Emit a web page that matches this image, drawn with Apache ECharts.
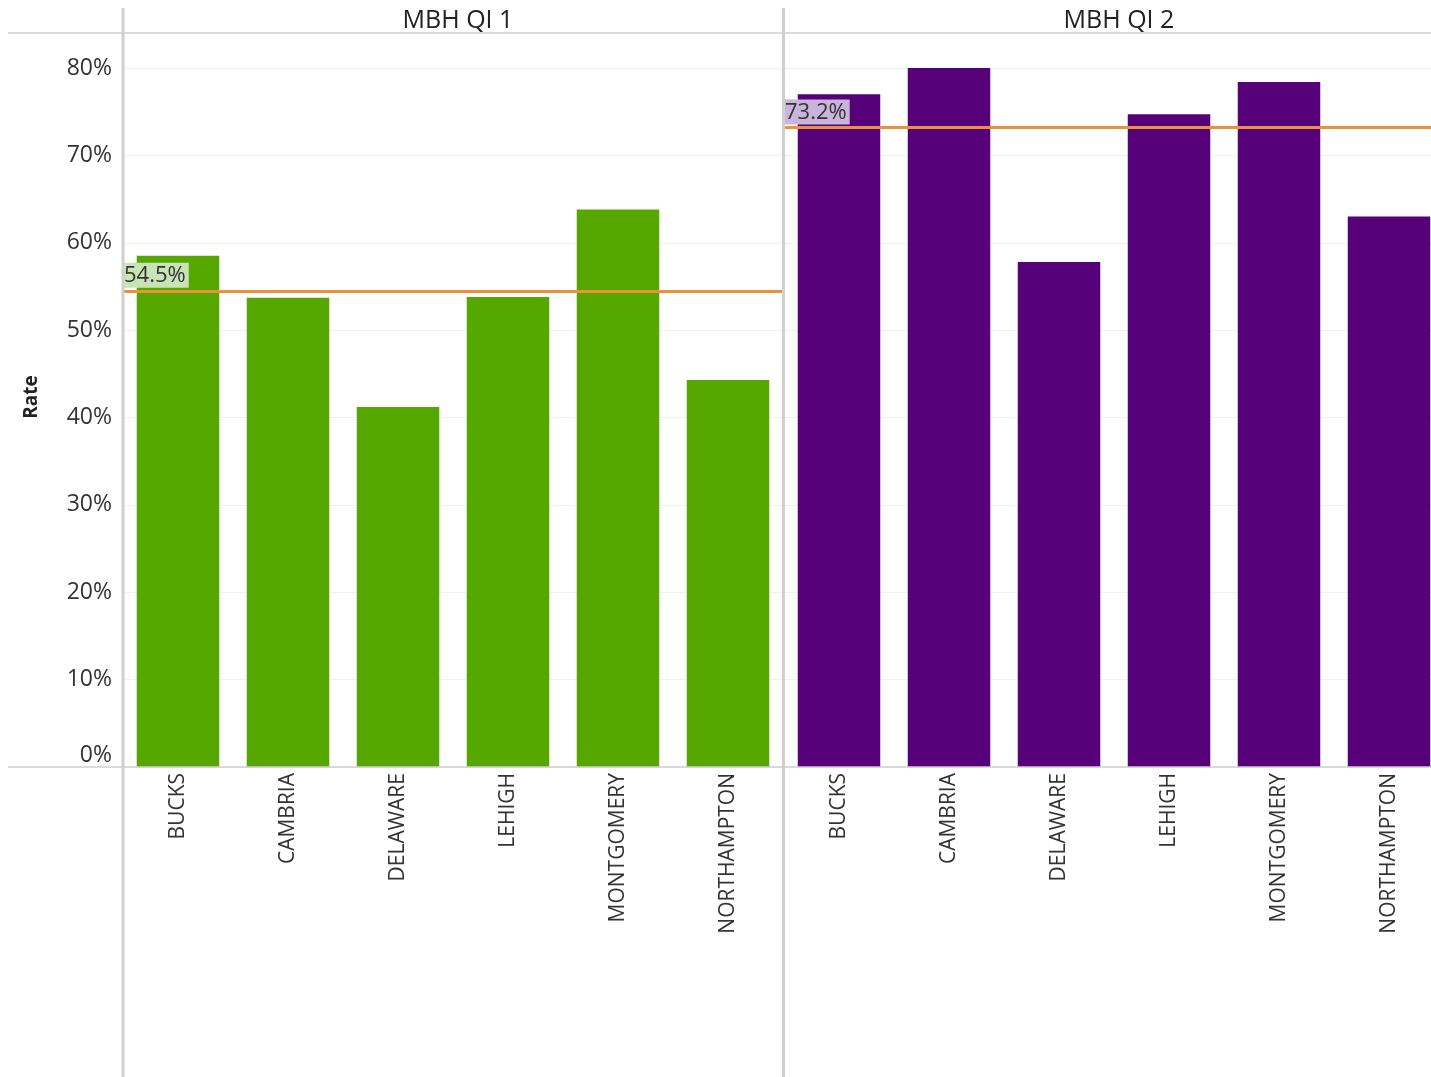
<!DOCTYPE html>
<html>
<head>
<meta charset="utf-8">
<script src="https://cdn.jsdelivr.net/npm/echarts@6/dist/echarts.min.js"></script>
<style>
  html, body { margin: 0; padding: 0; background: #fff; overflow: hidden; }
  /* a bit wider than the window: the last bar is cut off at the right edge, like the original */
  #main { width: 1444px; height: 1077px; }
</style>
</head>
<body>
<div id="main"></div>
<script>
// counties on each panel
const counties = ["BUCKS", "CAMBRIA", "DELAWARE", "LEHIGH", "MONTGOMERY", "NORTHAMPTON"];
// rates in percent
const qi1Rates = [58.5, 53.7, 41.2, 53.8, 63.8, 44.3];
const qi2Rates = [77.0, 80.0, 57.8, 74.7, 78.4, 63.0];
// reference lines (averages)
const qi1Avg = 54.5;
const qi2Avg = 73.2;
const panelTitles = ["MBH QI 1", "MBH QI 2"];
const yTicks = [0, 10, 20, 30, 40, 50, 60, 70, 80];

const font = "Open Sans";
const grey = "#cfcfcf";

let chart = echarts.init(document.getElementById("main"));

function yAxisFor(idx, showLabels) {
  return {
    type: "value",
    gridIndex: idx,
    min: yTicks[0],
    max: yTicks[yTicks.length - 1],
    interval: 10,
    axisLine: { show: false },
    axisTick: { show: false },
    splitLine: { show: true, lineStyle: { color: "#f0f0f0", width: 1 } },
    axisLabel: {
      show: showLabels,
      formatter: "{value}%",
      fontFamily: font,
      fontSize: 23,
      color: "#333",
      margin: 11,
      verticalAlignMinLabel: "bottom"
    }
  };
}

function xAxisFor(idx) {
  return {
    type: "category",
    gridIndex: idx,
    data: counties,
    axisLine: { show: false },
    axisTick: { show: false },
    axisLabel: {
      rotate: 90,
      interval: 0,
      margin: 6,
      fontFamily: font,
      fontSize: 21,
      color: "#333"
    }
  };
}

function refLine(value, bg) {
  return {
    silent: true,
    symbol: "none",
    lineStyle: { color: "#e8923a", width: 3, type: "solid" },
    label: {
      show: true,
      position: "insideStartTop",
      formatter: value.toFixed(1) + "%",
      fontFamily: font,
      fontSize: 22,
      color: "#333",
      backgroundColor: bg,
      padding: [2, 3, 1, 1],
      distance: [0, 3]
    },
    data: [{ yAxis: value }]
  };
}

let option = {
  animation: false,
  backgroundColor: "#fff",
  title: [
    { text: panelTitles[0], left: 453, top: 3, textAlign: "center",
      textStyle: { fontFamily: font, fontSize: 25, fontWeight: "normal", color: "#222" } },
    { text: panelTitles[1], left: 1114, top: 3, textAlign: "center",
      textStyle: { fontFamily: font, fontSize: 25, fontWeight: "normal", color: "#222" } }
  ],
  grid: [
    { left: 123, width: 660, top: 68, bottom: 310 },
    { left: 784, width: 660, top: 68, bottom: 310 }
  ],
  xAxis: [xAxisFor(0), xAxisFor(1)],
  yAxis: [yAxisFor(0, true), yAxisFor(1, false)],
  series: [
    {
      name: panelTitles[0],
      type: "bar",
      xAxisIndex: 0,
      yAxisIndex: 0,
      data: qi1Rates,
      barWidth: "75%",
      itemStyle: { color: "#56a800" },
      markLine: refLine(qi1Avg, "#c8e4b4")
    },
    {
      name: panelTitles[1],
      type: "bar",
      xAxisIndex: 1,
      yAxisIndex: 1,
      data: qi2Rates,
      barWidth: "75%",
      itemStyle: { color: "#560079" },
      markLine: refLine(qi2Avg, "#c9b4dc")
    }
  ],
  graphic: [
    // axis title
    { type: "text", x: 32, y: 397, rotation: Math.PI / 2,
      style: { text: "Rate", font: "bold 19px 'Open Sans'", fill: "#222", align: "center", verticalAlign: "middle" } },
    // header and baseline rules
    { type: "line", shape: { x1: 8, y1: 33, x2: 1444, y2: 33 }, style: { stroke: grey, lineWidth: 1.5 }, z: 10 },
    { type: "line", shape: { x1: 8, y1: 767, x2: 1444, y2: 767 }, style: { stroke: grey, lineWidth: 1.5 }, z: 10 },
    // panel dividers
    { type: "line", shape: { x1: 123, y1: 8, x2: 123, y2: 1077 }, style: { stroke: grey, lineWidth: 3 }, z: 10 },
    { type: "line", shape: { x1: 783.5, y1: 8, x2: 783.5, y2: 1077 }, style: { stroke: grey, lineWidth: 3 }, z: 10 }
  ]
};

chart.setOption(option);
</script>
</body>
</html>
